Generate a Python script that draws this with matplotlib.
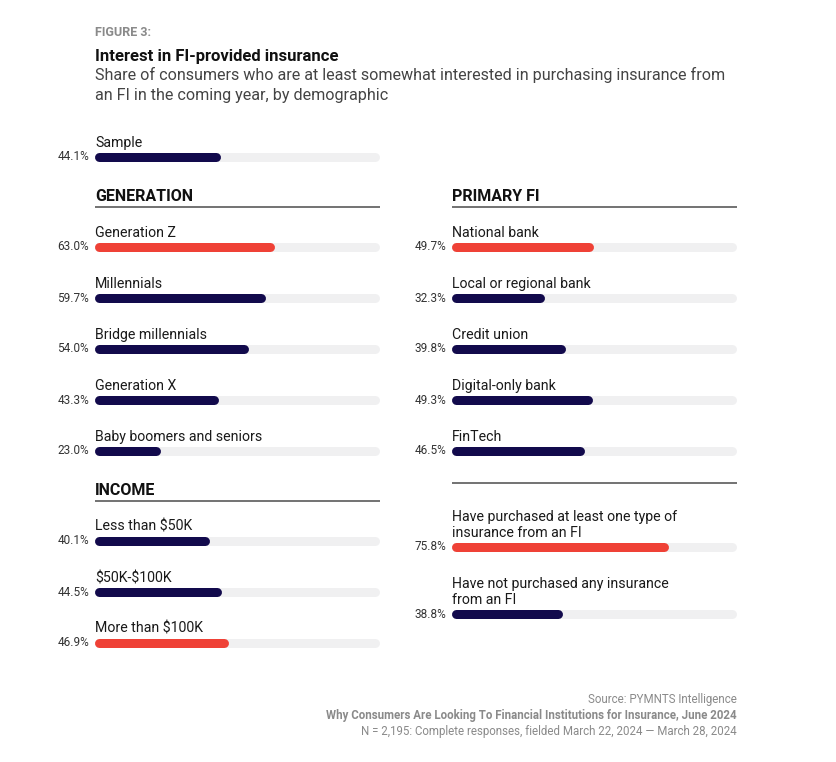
import matplotlib.pyplot as plt

plt.rcParams['font.family'] = ['Roboto', 'DejaVu Sans']

NAVY = '#120a4c'
RED = '#ef4136'
TRACK = '#f0f0f1'
RULE = '#5a5a5a'

sample_value = 44.1

gen_labels = ["Generation Z", "Millennials", "Bridge millennials",
              "Generation X", "Baby boomers and seniors"]
gen_values = [63.0, 59.7, 54.0, 43.3, 23.0]

income_labels = ["Less than \\$50K", "\\$50K-\\$100K", "More than \\$100K"]
income_values = [40.1, 44.5, 46.9]

fi_labels = ["National bank", "Local or regional bank", "Credit union",
             "Digital-only bank", "FinTech"]
fi_values = [49.7, 32.3, 39.8, 49.3, 46.5]

purchase_labels = ["Have purchased at least one type of\ninsurance from an FI",
                   "Have not purchased any insurance\nfrom an FI"]
purchase_values = [75.8, 38.8]

W, H = 837, 762
BAR_PX = 9          # bar thickness in pixels
COL_PX = 285        # column width in pixels (= 100 %)


def draw_row(ax, label, value, y_bar, highlight):
    lw = BAR_PX * 72 / 100
    cap = (BAR_PX / 2) / COL_PX * 100
    ax.hlines(y_bar, cap, 100 - cap, color=TRACK, lw=lw, capstyle='round')
    ax.hlines(y_bar, cap, max(value - cap, cap), color=RED if highlight else NAVY,
              lw=lw, capstyle='round')
    ax.text(-2.1, y_bar, "{:.1f}%".format(value), ha='right', va='center',
            fontsize=8.5, color='#333333')
    # baseline of the last label line sits just above the bar
    ax.text(0, y_bar - 10, label, ha='left', va='baseline', fontsize=10.2,
            color='#1a1a1a', linespacing=1.2)


def draw_header(ax, text, y_line):
    if text:
        ax.text(0, y_line - 6, text, ha='left', va='baseline', fontsize=11.5,
                fontweight='bold', color='#111111')
    ax.hlines(y_line, 0, 100, color=RULE, lw=1.2)


def draw_group(ax, labels, values, y0, step):
    top = max(values)
    for i, (lab, val) in enumerate(zip(labels, values)):
        draw_row(ax, lab, val, y0 + i * step, val == top)


def make_col(x_px):
    ax = fig.add_axes([x_px / W, 0, COL_PX / W, 1])
    ax.set_xlim(0, 100)
    ax.set_ylim(H, 0)
    ax.axis('off')
    return ax


fig = plt.figure(figsize=(W / 100, H / 100), dpi=100)
fig.patch.set_facecolor('white')

left = make_col(95)
right = make_col(452)

# titles
left.text(0, 35.5, "FIGURE 3:", fontsize=9, fontweight='bold', color='#8a8a8a',
          va='baseline')
left.text(0, 61, "Interest in FI-provided insurance", fontsize=12,
          fontweight='bold', color='#111111', va='baseline')
left.text(0, 80, "Share of consumers who are at least somewhat interested in purchasing insurance from",
          fontsize=11.6, color='#444444', va='baseline')
left.text(0, 100, "an FI in the coming year, by demographic",
          fontsize=11.6, color='#444444', va='baseline')

draw_row(left, "Sample", sample_value, 157, False)

draw_header(left, "GENERATION", 207)
draw_group(left, gen_labels, gen_values, 247, 51)

draw_header(left, "INCOME", 501)
draw_group(left, income_labels, income_values, 541, 51)

draw_header(right, "PRIMARY FI", 207)
draw_group(right, fi_labels, fi_values, 247, 51)

draw_header(right, "", 483)
top = max(purchase_values)
for i, (lab, val) in enumerate(zip(purchase_labels, purchase_values)):
    draw_row(right, lab, val, 547 + i * 67, val == top)

# footer
foot = dict(ha='right', va='baseline', fontsize=8.3, color='#8a8a8a')
right.text(100, 703.5, "Source: PYMNTS Intelligence", **foot)
right.text(100, 719.5, "Why Consumers Are Looking To Financial Institutions for Insurance, June 2024",
           fontweight='bold', **foot)
right.text(100, 735.5, "N = 2,195: Complete responses, fielded March 22, 2024 \u2014 March 28, 2024", **foot)

fig.savefig("out.png", dpi=100)
